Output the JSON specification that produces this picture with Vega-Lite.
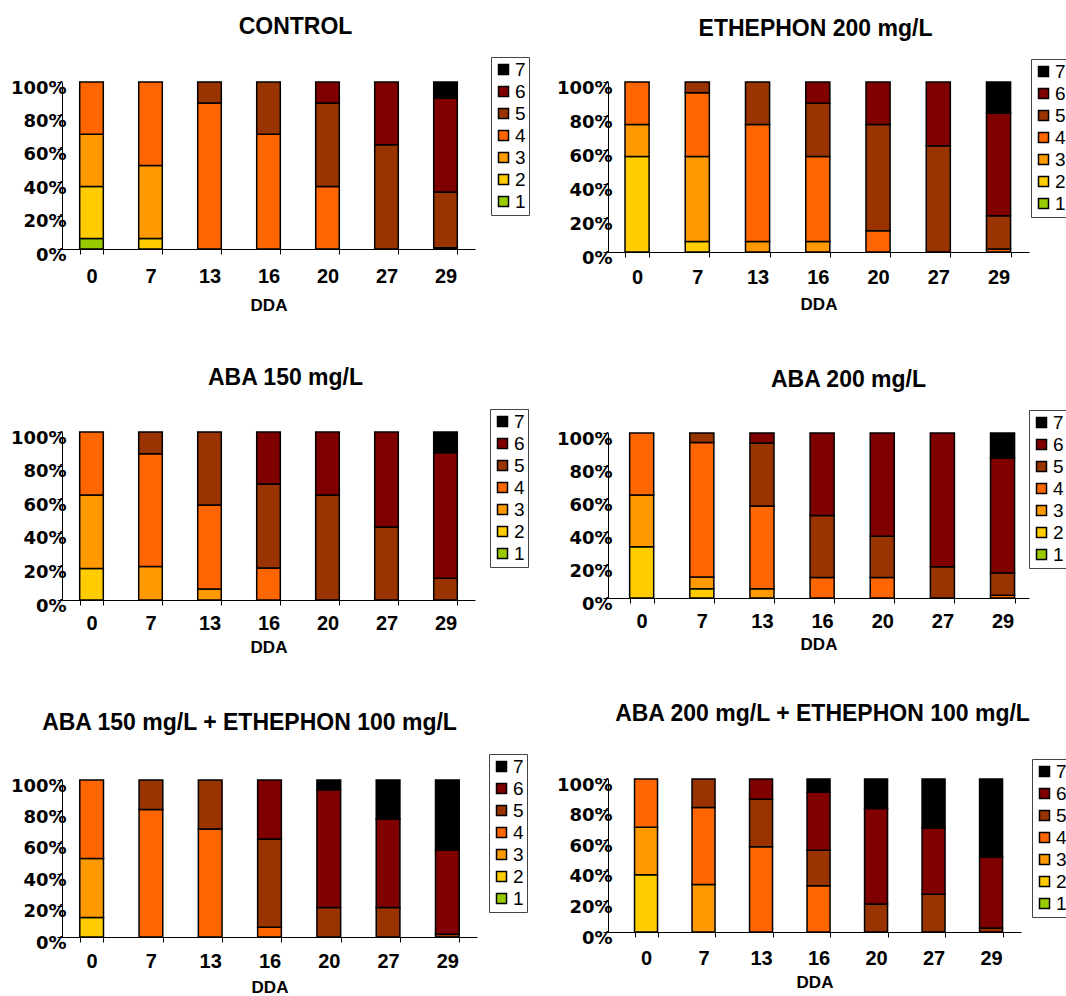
{
  "$schema": "https://vega.github.io/schema/vega-lite/v6.json",
  "padding": {"left": 10, "top": 15, "right": 0, "bottom": 0},
  "datasets": {
    "d": [
      {"p": "C", "d": "0", "s": "1", "v": 6.25}, {"p": "C", "d": "0", "s": "2", "v": 31.25}, {"p": "C", "d": "0", "s": "3", "v": 31.25}, {"p": "C", "d": "0", "s": "4", "v": 31.25},
      {"p": "C", "d": "7", "s": "2", "v": 6.25}, {"p": "C", "d": "7", "s": "3", "v": 43.75}, {"p": "C", "d": "7", "s": "4", "v": 50},
      {"p": "C", "d": "13", "s": "4", "v": 87.5}, {"p": "C", "d": "13", "s": "5", "v": 12.5},
      {"p": "C", "d": "16", "s": "4", "v": 68.75}, {"p": "C", "d": "16", "s": "5", "v": 31.25},
      {"p": "C", "d": "20", "s": "4", "v": 37.5}, {"p": "C", "d": "20", "s": "5", "v": 50}, {"p": "C", "d": "20", "s": "6", "v": 12.5},
      {"p": "C", "d": "27", "s": "5", "v": 62.5}, {"p": "C", "d": "27", "s": "6", "v": 37.5},
      {"p": "C", "d": "29", "s": "4", "v": 0.8}, {"p": "C", "d": "29", "s": "5", "v": 33.4}, {"p": "C", "d": "29", "s": "6", "v": 56}, {"p": "C", "d": "29", "s": "7", "v": 9.8},

      {"p": "E", "d": "0", "s": "2", "v": 56.25}, {"p": "E", "d": "0", "s": "3", "v": 18.75}, {"p": "E", "d": "0", "s": "4", "v": 25},
      {"p": "E", "d": "7", "s": "2", "v": 6.25}, {"p": "E", "d": "7", "s": "3", "v": 50}, {"p": "E", "d": "7", "s": "4", "v": 37.5}, {"p": "E", "d": "7", "s": "5", "v": 6.25},
      {"p": "E", "d": "13", "s": "3", "v": 6.25}, {"p": "E", "d": "13", "s": "4", "v": 68.75}, {"p": "E", "d": "13", "s": "5", "v": 25},
      {"p": "E", "d": "16", "s": "3", "v": 6.25}, {"p": "E", "d": "16", "s": "4", "v": 50}, {"p": "E", "d": "16", "s": "5", "v": 31.25}, {"p": "E", "d": "16", "s": "6", "v": 12.5},
      {"p": "E", "d": "20", "s": "4", "v": 12.5}, {"p": "E", "d": "20", "s": "5", "v": 62.5}, {"p": "E", "d": "20", "s": "6", "v": 25},
      {"p": "E", "d": "27", "s": "5", "v": 62.5}, {"p": "E", "d": "27", "s": "6", "v": 37.5},
      {"p": "E", "d": "29", "s": "4", "v": 1.8}, {"p": "E", "d": "29", "s": "5", "v": 19.5}, {"p": "E", "d": "29", "s": "6", "v": 60.5}, {"p": "E", "d": "29", "s": "7", "v": 18.2},

      {"p": "A150", "d": "0", "s": "2", "v": 18.75}, {"p": "A150", "d": "0", "s": "3", "v": 43.75}, {"p": "A150", "d": "0", "s": "4", "v": 37.5},
      {"p": "A150", "d": "7", "s": "3", "v": 20}, {"p": "A150", "d": "7", "s": "4", "v": 67}, {"p": "A150", "d": "7", "s": "5", "v": 13},
      {"p": "A150", "d": "13", "s": "3", "v": 6.5}, {"p": "A150", "d": "13", "s": "4", "v": 50}, {"p": "A150", "d": "13", "s": "5", "v": 43.5},
      {"p": "A150", "d": "16", "s": "4", "v": 19}, {"p": "A150", "d": "16", "s": "5", "v": 50}, {"p": "A150", "d": "16", "s": "6", "v": 31},
      {"p": "A150", "d": "20", "s": "5", "v": 62.5}, {"p": "A150", "d": "20", "s": "6", "v": 37.5},
      {"p": "A150", "d": "27", "s": "5", "v": 43.5}, {"p": "A150", "d": "27", "s": "6", "v": 56.5},
      {"p": "A150", "d": "29", "s": "5", "v": 13}, {"p": "A150", "d": "29", "s": "6", "v": 74.7}, {"p": "A150", "d": "29", "s": "7", "v": 12.3},

      {"p": "A200", "d": "0", "s": "2", "v": 31}, {"p": "A200", "d": "0", "s": "3", "v": 31.5}, {"p": "A200", "d": "0", "s": "4", "v": 37.5},
      {"p": "A200", "d": "7", "s": "2", "v": 5.6}, {"p": "A200", "d": "7", "s": "3", "v": 7.1}, {"p": "A200", "d": "7", "s": "4", "v": 81.5}, {"p": "A200", "d": "7", "s": "5", "v": 5.8},
      {"p": "A200", "d": "13", "s": "3", "v": 5.6}, {"p": "A200", "d": "13", "s": "4", "v": 50.2}, {"p": "A200", "d": "13", "s": "5", "v": 38.2}, {"p": "A200", "d": "13", "s": "6", "v": 6},
      {"p": "A200", "d": "16", "s": "4", "v": 12.5}, {"p": "A200", "d": "16", "s": "5", "v": 37.5}, {"p": "A200", "d": "16", "s": "6", "v": 50},
      {"p": "A200", "d": "20", "s": "4", "v": 12.5}, {"p": "A200", "d": "20", "s": "5", "v": 25}, {"p": "A200", "d": "20", "s": "6", "v": 62.5},
      {"p": "A200", "d": "27", "s": "5", "v": 19}, {"p": "A200", "d": "27", "s": "6", "v": 81},
      {"p": "A200", "d": "29", "s": "4", "v": 1.6}, {"p": "A200", "d": "29", "s": "5", "v": 13.5}, {"p": "A200", "d": "29", "s": "6", "v": 69.8}, {"p": "A200", "d": "29", "s": "7", "v": 15.1},

      {"p": "A150E", "d": "0", "s": "2", "v": 12.5}, {"p": "A150E", "d": "0", "s": "3", "v": 37.5}, {"p": "A150E", "d": "0", "s": "4", "v": 50},
      {"p": "A150E", "d": "7", "s": "4", "v": 81.25}, {"p": "A150E", "d": "7", "s": "5", "v": 18.75},
      {"p": "A150E", "d": "13", "s": "4", "v": 68.75}, {"p": "A150E", "d": "13", "s": "5", "v": 31.25},
      {"p": "A150E", "d": "16", "s": "4", "v": 6.25}, {"p": "A150E", "d": "16", "s": "5", "v": 56.25}, {"p": "A150E", "d": "16", "s": "6", "v": 37.5},
      {"p": "A150E", "d": "20", "s": "5", "v": 18.75}, {"p": "A150E", "d": "20", "s": "6", "v": 75}, {"p": "A150E", "d": "20", "s": "7", "v": 6.25},
      {"p": "A150E", "d": "27", "s": "5", "v": 18.75}, {"p": "A150E", "d": "27", "s": "6", "v": 56.25}, {"p": "A150E", "d": "27", "s": "7", "v": 25},
      {"p": "A150E", "d": "29", "s": "5", "v": 1.9}, {"p": "A150E", "d": "29", "s": "6", "v": 53.5}, {"p": "A150E", "d": "29", "s": "7", "v": 44.6},

      {"p": "A200E", "d": "0", "s": "2", "v": 37.5}, {"p": "A200E", "d": "0", "s": "3", "v": 31}, {"p": "A200E", "d": "0", "s": "4", "v": 31.5},
      {"p": "A200E", "d": "7", "s": "3", "v": 31}, {"p": "A200E", "d": "7", "s": "4", "v": 50.3}, {"p": "A200E", "d": "7", "s": "5", "v": 18.7},
      {"p": "A200E", "d": "13", "s": "4", "v": 55.8}, {"p": "A200E", "d": "13", "s": "5", "v": 30.9}, {"p": "A200E", "d": "13", "s": "6", "v": 13.3},
      {"p": "A200E", "d": "16", "s": "4", "v": 30.3}, {"p": "A200E", "d": "16", "s": "5", "v": 23.1}, {"p": "A200E", "d": "16", "s": "6", "v": 37.9}, {"p": "A200E", "d": "16", "s": "7", "v": 8.7},
      {"p": "A200E", "d": "20", "s": "5", "v": 18.3}, {"p": "A200E", "d": "20", "s": "6", "v": 62.5}, {"p": "A200E", "d": "20", "s": "7", "v": 19.2},
      {"p": "A200E", "d": "27", "s": "5", "v": 24.6}, {"p": "A200E", "d": "27", "s": "6", "v": 43.4}, {"p": "A200E", "d": "27", "s": "7", "v": 32},
      {"p": "A200E", "d": "29", "s": "5", "v": 2.6}, {"p": "A200E", "d": "29", "s": "6", "v": 46.4}, {"p": "A200E", "d": "29", "s": "7", "v": 51}
    ]
  },
  "config": {
    "font": "Liberation Sans",
    "view": {"stroke": null},
    "axis": {"domainColor": "black", "tickColor": "black", "labelColor": "black", "titleColor": "black", "grid": false, "domainWidth": 1, "tickWidth": 1},
    "axisX": {"labelAngle": 0, "labelFontSize": 20, "labelFontWeight": "bold", "tickSize": 5, "labelPadding": 12, "tickBand": "extent", "titleFontSize": 17, "titleFontWeight": "bold", "titlePadding": 11},
    "axisY": {"labelFont": "DejaVu Sans", "labelFontSize": 18, "labelFontWeight": "bold", "tickSize": 5, "labelPadding": -9, "labelOffset": 6, "format": ".0%", "values": [0, 0.2, 0.4, 0.6, 0.8, 1], "title": null},
    "legend": {"orient": "none", "title": null, "labelFontSize": 19, "labelColor": "black", "symbolType": "square", "symbolSize": 100, "symbolStrokeColor": "black", "symbolStrokeWidth": 1.5, "symbolOpacity": 1, "rowPadding": 2, "labelOffset": 2, "padding": 3, "strokeColor": "#444444", "fillColor": "white"},
    "title": {"fontSize": 23, "fontWeight": "bold", "color": "black", "anchor": "middle"},
    "bar": {"stroke": "black", "strokeWidth": 1.5}
  },
  "resolve": {"legend": {"color": "independent"}},
  "spacing": 26,
  "hconcat": [
    {
      "spacing": 53,
      "resolve": {"legend": {"color": "independent"}},
      "vconcat": [
        {
          "title": {"text": "CONTROL", "dx": 27, "offset": 18},
          "width": 413, "height": 167,
          "data": {"name": "d"},
          "transform": [{"filter": "datum.p === 'C'"}],
          "mark": "bar",
          "encoding": {
            "x": {"field": "d", "type": "ordinal", "sort": ["0", "7", "13", "16", "20", "27", "29"], "scale": {"paddingInner": 0.6, "paddingOuter": 0.3}, "axis": {"title": "DDA"}},
            "y": {"aggregate": "sum", "field": "v", "type": "quantitative", "stack": "normalize"},
            "color": {"field": "s", "type": "nominal", "scale": {"domain": ["7", "6", "5", "4", "3", "2", "1"], "range": ["#000000", "#800000", "#993300", "#FF6600", "#FF9900", "#FFCC00", "#99CC00"]}, "legend": {"legendX": 429, "legendY": -25}},
            "order": {"field": "s", "sort": "ascending"}
          }
        },
        {
          "spacing": 56,
          "resolve": {"legend": {"color": "independent"}},
          "vconcat": [
            {
              "title": {"text": "ABA 150 mg/L", "dx": 17, "offset": 19},
              "width": 413, "height": 168,
              "data": {"name": "d"},
              "transform": [{"filter": "datum.p === 'A150'"}],
              "mark": "bar",
              "encoding": {
                "x": {"field": "d", "type": "ordinal", "sort": ["0", "7", "13", "16", "20", "27", "29"], "scale": {"paddingInner": 0.6, "paddingOuter": 0.3}, "axis": {"title": "DDA", "labelPadding": 8, "titlePadding": 6}},
                "y": {"aggregate": "sum", "field": "v", "type": "quantitative", "stack": "normalize"},
                "color": {"field": "s", "type": "nominal", "scale": {"domain": ["7", "6", "5", "4", "3", "2", "1"], "range": ["#000000", "#800000", "#993300", "#FF6600", "#FF9900", "#FFCC00", "#99CC00"]}, "legend": {"legendX": 428, "legendY": -23}},
                "order": {"field": "s", "sort": "ascending"}
              }
            },
            {
              "title": {"text": "ABA 150 mg/L + ETHEPHON 100 mg/L", "dx": -20, "offset": 19},
              "width": 415, "height": 157,
              "data": {"name": "d"},
              "transform": [{"filter": "datum.p === 'A150E'"}],
              "mark": "bar",
              "encoding": {
                "x": {"field": "d", "type": "ordinal", "sort": ["0", "7", "13", "16", "20", "27", "29"], "scale": {"paddingInner": 0.6, "paddingOuter": 0.3}, "axis": {"title": "DDA", "labelPadding": 9, "titlePadding": 8}},
                "y": {"aggregate": "sum", "field": "v", "type": "quantitative", "stack": "normalize"},
                "color": {"field": "s", "type": "nominal", "scale": {"domain": ["7", "6", "5", "4", "3", "2", "1"], "range": ["#000000", "#800000", "#993300", "#FF6600", "#FF9900", "#FFCC00", "#99CC00"]}, "legend": {"legendX": 427, "legendY": -26}},
                "order": {"field": "s", "sort": "ascending"}
              }
            }
          ]
        }
      ]
    },
    {
      "spacing": 56,
      "resolve": {"legend": {"color": "independent"}},
      "vconcat": [
        {
          "title": {"text": "ETHEPHON 200 mg/L", "dx": -3, "offset": 18},
          "width": 421, "height": 170,
          "data": {"name": "d"},
          "transform": [{"filter": "datum.p === 'E'"}],
          "mark": "bar",
          "encoding": {
            "x": {"field": "d", "type": "ordinal", "sort": ["0", "7", "13", "16", "20", "27", "29"], "scale": {"paddingInner": 0.6, "paddingOuter": 0.294, "align": 0.48}, "axis": {"title": "DDA", "labelPadding": 10, "titlePadding": 9}},
            "y": {"aggregate": "sum", "field": "v", "type": "quantitative", "stack": "normalize"},
            "color": {"field": "s", "type": "nominal", "scale": {"domain": ["7", "6", "5", "4", "3", "2", "1"], "range": ["#000000", "#800000", "#993300", "#FF6600", "#FF9900", "#FFCC00", "#99CC00"]}, "legend": {"legendX": 423, "legendY": -23}},
            "order": {"field": "s", "sort": "ascending"}
          }
        },
        {
          "spacing": 50,
          "resolve": {"legend": {"color": "independent"}},
          "vconcat": [
            {
              "title": {"text": "ABA 200 mg/L", "dx": 30, "offset": 18},
              "width": 421, "height": 165,
              "data": {"name": "d"},
              "transform": [{"filter": "datum.p === 'A200'"}],
              "mark": "bar",
              "encoding": {
                "x": {"field": "d", "type": "ordinal", "sort": ["0", "7", "13", "16", "20", "27", "29"], "scale": {"paddingInner": 0.6, "paddingOuter": 0.3, "align": 0.6}, "axis": {"title": "DDA", "labelPadding": 8, "titlePadding": 5}},
                "y": {"aggregate": "sum", "field": "v", "type": "quantitative", "stack": "normalize"},
                "color": {"field": "s", "type": "nominal", "scale": {"domain": ["7", "6", "5", "4", "3", "2", "1"], "range": ["#000000", "#800000", "#993300", "#FF6600", "#FF9900", "#FFCC00", "#99CC00"]}, "legend": {"legendX": 421, "legendY": -23}},
                "order": {"field": "s", "sort": "ascending"}
              }
            },
            {
              "title": {"text": "ABA 200 mg/L + ETHEPHON 100 mg/L", "dx": 8, "offset": 33},
              "width": 413, "height": 153,
              "data": {"name": "d"},
              "transform": [{"filter": "datum.p === 'A200E'"}],
              "mark": "bar",
              "encoding": {
                "x": {"field": "d", "type": "ordinal", "sort": ["0", "7", "13", "16", "20", "27", "29"], "scale": {"paddingInner": 0.6, "paddingOuter": 0.391, "align": 0.59}, "axis": {"title": "DDA", "labelPadding": 11, "titlePadding": 6}},
                "y": {"aggregate": "sum", "field": "v", "type": "quantitative", "stack": "normalize"},
                "color": {"field": "s", "type": "nominal", "scale": {"domain": ["7", "6", "5", "4", "3", "2", "1"], "range": ["#000000", "#800000", "#993300", "#FF6600", "#FF9900", "#FFCC00", "#99CC00"]}, "legend": {"legendX": 424, "legendY": -20}},
                "order": {"field": "s", "sort": "ascending"}
              }
            }
          ]
        }
      ]
    }
  ]
}
